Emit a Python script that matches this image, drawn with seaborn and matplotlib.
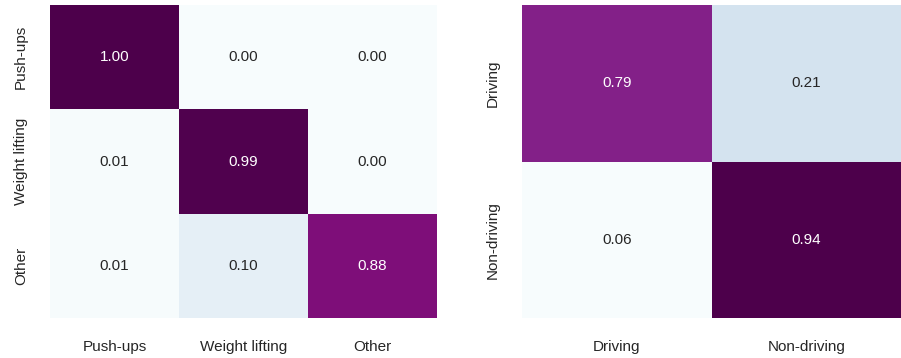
import matplotlib
matplotlib.use("Agg")
import matplotlib.pyplot as plt
import numpy as np
import pandas as pd
import seaborn as sns

sns.set_style("white")
plt.rcParams["font.family"] = ["Liberation Sans", "DejaVu Sans"]

# Activity recognition confusion matrix (row-normalised)
activity_labels = ["Push-ups", "Weight lifting", "Other"]
activity_rows = [
    [1.00, 0.00, 0.00],
    [0.01, 0.99, 0.00],
    [0.01, 0.10, 0.88],
]

# Driving detection confusion matrix (row-normalised)
driving_labels = ["Driving", "Non-driving"]
driving_rows = [
    [0.79, 0.21],
    [0.06, 0.94],
]

activity_df = pd.DataFrame(activity_rows, index=activity_labels, columns=activity_labels)
driving_df = pd.DataFrame(driving_rows, index=driving_labels, columns=driving_labels)

W, H = 901, 358
fig = plt.figure(figsize=(W / 100, H / 100), dpi=100)
ax1 = fig.add_axes([50 / W, (H - 318) / H, 387 / W, 313 / H])
ax2 = fig.add_axes([522 / W, (H - 318) / H, 379 / W, 313 / H])

common = dict(annot=True, fmt=".2f", cmap="BuPu", cbar=False,
              annot_kws={"fontsize": 11})

sns.heatmap(activity_df, ax=ax1, vmin=0, vmax=1, **common)
sns.heatmap(driving_df, ax=ax2, **common)

for ax in (ax1, ax2):
    ax.tick_params(axis="both", length=0, labelsize=11, labelcolor="#262626", pad=16)
    ax.set_yticklabels(ax.get_yticklabels(), rotation=90, va="center")
    ax.set_xticklabels(ax.get_xticklabels(), rotation=0)

fig.savefig("out.png", dpi=100)
